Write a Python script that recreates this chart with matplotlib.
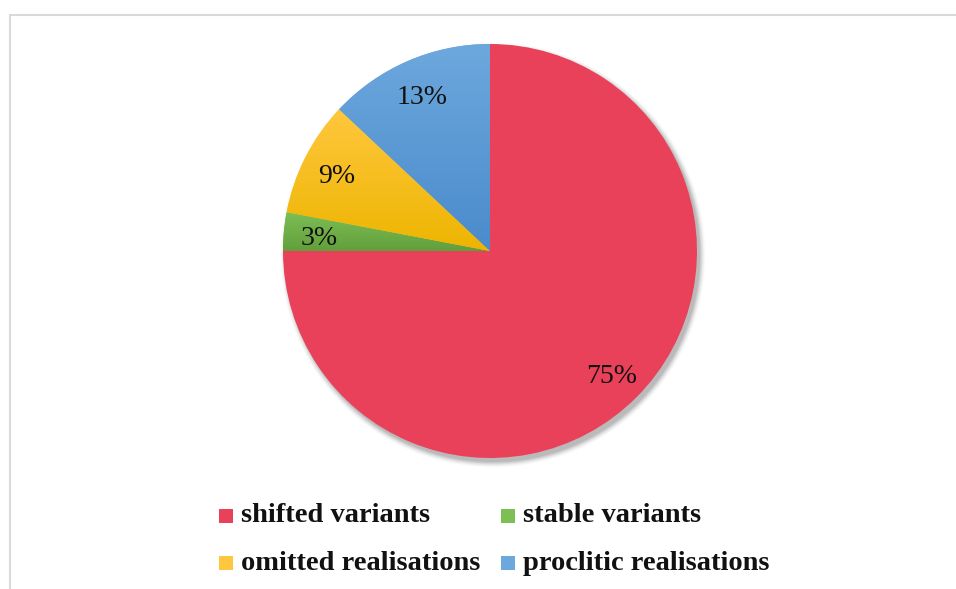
import numpy as np
import matplotlib
matplotlib.use("Agg")
import matplotlib.pyplot as plt
from matplotlib.patches import Rectangle, Circle
from matplotlib.colors import LinearSegmentedColormap

categories = ["shifted variants", "stable variants", "omitted realisations", "proclitic realisations"]
shares = [75, 3, 9, 13]
top_colors = ["#E94159", "#7DBE55", "#FFC73D", "#6DA8DD"]
bottom_colors = ["#E94159", "#629F3B", "#EDB500", "#4A8BCC"]

W, H = 956, 589
fig = plt.figure(figsize=(W / 100, H / 100), dpi=100)
ax = fig.add_axes([0, 0, 1, 1])

cx, cy, r = 490, H - 251, 207

wedges, texts, autotexts = ax.pie(
    shares, startangle=90, counterclock=False, center=(cx, cy), radius=r,
    colors=top_colors, autopct="%d%%", pctdistance=0.83,
    wedgeprops=dict(linewidth=0), frame=True,
    textprops=dict(family="Liberation Serif", fontsize=20, color="#111111"))
ax.set_xlim(0, W)
ax.set_ylim(0, H)
ax.set_aspect("auto")
ax.axis("off")

# outer chart frame
ax.add_patch(Rectangle((10, -20), W + 20, H - 15 + 20, fill=False,
                       edgecolor="#D9D9D9", linewidth=1.5, zorder=0))

# soft drop shadow under the pie
for i, a in enumerate(np.linspace(0.06, 0.012, 8)):
    ax.add_patch(Circle((cx + 3, cy - 4), r + i * 0.8, facecolor="black",
                        edgecolor="none", alpha=a, zorder=1))

# vertical gradient fill inside each wedge
for w, c0, c1 in zip(wedges, top_colors, bottom_colors):
    w.set_zorder(2)
    if c0 == c1:
        continue
    ext = w.get_path().get_extents()
    cmap = LinearSegmentedColormap.from_list("g", [c1, c0])
    grad = np.linspace(0, 1, 256).reshape(-1, 1)
    im = ax.imshow(grad, cmap=cmap, origin="lower", aspect="auto",
                   extent=[ext.x0, ext.x1, ext.y0, ext.y1], zorder=3)
    im.set_clip_path(w)
ax.set_xlim(0, W)
ax.set_ylim(0, H)

# percentage labels sit a touch lower than the default centring
for t in autotexts:
    t.set_zorder(5)
    x, y = t.get_position()
    t.set_position((x, y - 4))

# legend
leg_rows = [H - 516, H - 563]
leg_cols = [219, 501]
for i, (name, c0, c1) in enumerate(zip(categories, top_colors, bottom_colors)):
    x = leg_cols[i % 2]
    y = leg_rows[i // 2]
    ax.add_patch(Rectangle((x, y - 7), 14, 14, facecolor=c0, edgecolor="none"))
    ax.text(x + 22, y, name, family="Liberation Serif", fontweight="bold",
            fontsize=20.5, color="#111111", va="center", ha="left")

fig.savefig("out.png", dpi=100)
